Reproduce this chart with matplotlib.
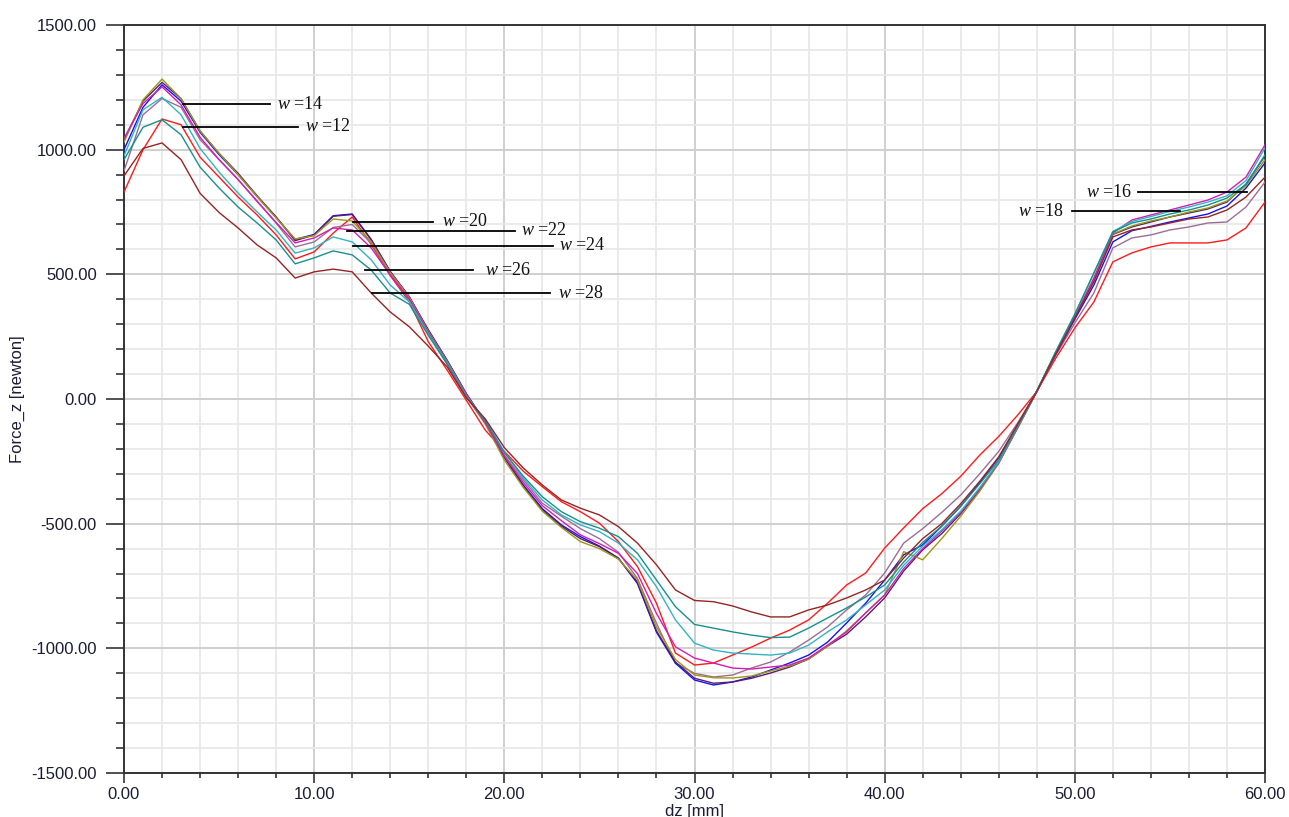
import matplotlib
matplotlib.use("Agg")
import matplotlib.pyplot as plt
from matplotlib.ticker import MultipleLocator, FormatStrFormatter

# Displacement samples (mm)
dz = list(range(0, 61))

# Force_z traces (newton) for each width w
f_w12 = [830, 1000, 1123, 1100, 970, 890, 810, 738, 658, 562,
         590, 665, 730, 620, 495, 390, 230, 115, -5, -125,
         -210, -290, -352, -412, -452, -498, -572, -672, -819, -1019,
         -1067, -1059, -1027, -995, -959, -927, -886, -819, -746, -698,
         -598, -517, -440, -380, -310, -225, -150, -64, 30, 164,
         285, 389, 550, 586, 610, 626, 626, 626, 638, 686, 790]
f_w14 = [915, 1140, 1205, 1170, 1040, 960, 880, 795, 705, 610,
         630, 688, 700, 625, 500, 398, 262, 138, 10, -100,
         -225, -325, -418, -470, -520, -560, -615, -720, -900, -1060,
         -1100, -1115, -1107, -1079, -1055, -1015, -967, -914, -846, -786,
         -698, -578, -520, -455, -385, -300, -210, -95, 30, 175,
         305, 425, 606, 646, 658, 678, 690, 706, 710, 770, 870]
f_w16 = [1000, 1170, 1260, 1195, 1070, 980, 900, 812, 728, 640,
         660, 735, 742, 640, 512, 410, 275, 152, 20, -95,
         -232, -345, -440, -505, -552, -590, -638, -740, -935, -1060,
         -1127, -1147, -1135, -1115, -1087, -1059, -1027, -975, -898, -819,
         -726, -625, -585, -510, -430, -335, -235, -110, 32, 180,
         320, 457, 630, 675, 692, 710, 726, 742, 774, 846, 947]
f_w18 = [1040, 1195, 1270, 1205, 1075, 985, 905, 815, 730, 635,
         658, 733, 740, 638, 510, 410, 278, 155, 22, -92,
         -235, -350, -445, -510, -560, -592, -640, -735, -930, -1055,
         -1120, -1140, -1135, -1120, -1099, -1075, -1043, -991, -943, -874,
         -798, -690, -605, -540, -460, -365, -255, -115, 30, 185,
         330, 477, 660, 690, 710, 730, 746, 762, 790, 862, 975]
f_w20 = [1030, 1200, 1283, 1205, 1075, 985, 900, 812, 726, 642,
         655, 722, 714, 630, 508, 408, 272, 150, 18, -100,
         -245, -355, -450, -515, -572, -600, -642, -726, -915, -1045,
         -1107, -1118, -1119, -1111, -1091, -1071, -1043, -991, -930, -858,
         -786, -612, -645, -560, -470, -370, -258, -115, 30, 185,
         330, 480, 662, 694, 714, 730, 750, 766, 794, 855, 960]
f_w22 = [1045, 1185, 1252, 1180, 1050, 960, 880, 792, 708, 626,
         646, 686, 678, 606, 497, 402, 268, 148, 18, -95,
         -230, -335, -428, -488, -545, -580, -619, -700, -860, -994,
         -1039, -1059, -1079, -1083, -1075, -1067, -1039, -987, -934, -858,
         -786, -680, -600, -530, -455, -360, -255, -112, 30, 185,
         330, 485, 666, 718, 738, 758, 778, 798, 830, 890, 1019]
f_w24 = [975, 1160, 1210, 1140, 1005, 910, 826, 750, 678, 585,
         606, 650, 630, 558, 457, 390, 262, 145, 12, -85,
         -212, -318, -405, -465, -505, -532, -578, -645, -753, -886,
         -979, -1007, -1019, -1023, -1027, -1019, -987, -934, -886, -826,
         -766, -667, -590, -525, -450, -355, -252, -110, 32, 190,
         340, 505, 672, 712, 732, 752, 770, 790, 815, 876, 1007]
f_w26 = [960, 1090, 1120, 1060, 930, 846, 770, 706, 638, 542,
         566, 594, 578, 517, 425, 380, 255, 140, 8, -88,
         -215, -310, -392, -452, -492, -518, -552, -619, -726, -833,
         -904, -919, -934, -947, -957, -955, -919, -878, -838, -794,
         -746, -654, -575, -510, -430, -340, -245, -108, 32, 190,
         340, 505, 670, 706, 722, 742, 758, 778, 806, 860, 979]
f_w28 = [895, 1005, 1027, 960, 825, 748, 686, 618, 566, 485,
         510, 521, 510, 425, 349, 290, 212, 128, 5, -80,
         -195, -277, -345, -405, -438, -465, -512, -578, -665, -766,
         -808, -813, -830, -854, -874, -874, -846, -826, -798, -766,
         -726, -638, -560, -500, -420, -330, -232, -100, 30, 182,
         325, 470, 650, 678, 690, 706, 722, 730, 758, 810, 890]

traces = [
    (f_w12, "#ff1a1a"),
    (f_w14, "#9c6e94"),
    (f_w16, "#1414ee"),
    (f_w18, "#5c1a70"),
    (f_w20, "#9a9a12"),
    (f_w22, "#d41cb4"),
    (f_w24, "#30b4c4"),
    (f_w26, "#17908f"),
    (f_w28, "#962424"),
]

# Callout labels: (text, curve point x, y, line end x, text x, text alignment)
callout_text = ["14", "12", "20", "22", "24", "26", "28", "16", "18"]
callout_y = [1183, 1091, 710, 674, 614, 517, 425, 830, 754]
callout_x0 = [3.1, 3.1, 12.04, 11.72, 12.04, 12.67, 13.04, 59.04, 55.52]
callout_x1 = [7.68, 9.15, 16.25, 20.56, 22.55, 18.35, 22.4, 53.3, 49.84]
callout_tx = [8.04, 9.5, 16.7, 20.9, 22.9, 19.0, 22.8, 53.0, 49.45]
callout_ha = ["left", "left", "left", "left", "left", "left", "left", "right", "right"]

plt.rcParams["mathtext.fontset"] = "custom"
plt.rcParams["mathtext.it"] = "Liberation Serif:italic"
plt.rcParams["mathtext.rm"] = "Liberation Serif"

fig = plt.figure(figsize=(12.89, 8.17), dpi=100)
ax = fig.add_axes([124 / 1289, 1 - 773 / 817, 1141 / 1289, 748 / 817])

for values, color in traces:
    ax.plot(dz, values, color=color, lw=1.0, zorder=3)

for t, y, x0, x1, tx, ha in zip(callout_text, callout_y, callout_x0,
                                 callout_x1, callout_tx, callout_ha):
    ax.plot([x0, x1], [y, y], color="black", lw=1.3, zorder=4)
    ax.text(tx, y, r"$w$ =" + t, fontsize=13, family="Liberation Serif",
            ha=ha, va="center", color="#111111", zorder=5)

ax.set_xlim(0, 60)
ax.set_ylim(-1500, 1500)
ax.xaxis.set_major_locator(MultipleLocator(10))
ax.xaxis.set_minor_locator(MultipleLocator(2))
ax.yaxis.set_major_locator(MultipleLocator(500))
ax.yaxis.set_minor_locator(MultipleLocator(100))
ax.xaxis.set_major_formatter(FormatStrFormatter("%.2f"))
ax.yaxis.set_major_formatter(FormatStrFormatter("%.2f"))

ax.grid(which="major", color="#cfcfcf", lw=1.4, zorder=0)
ax.grid(which="minor", color="#e8e8e8", lw=1.3, zorder=0)
ax.set_axisbelow(True)

label_color = "#1c1c34"
ax.tick_params(axis="y", which="major", direction="out", length=13, width=1.2,
               color="#333333", pad=6.5, labelsize=12, labelcolor=label_color)
ax.tick_params(axis="y", which="minor", direction="out", length=5.8, width=1.2,
               color="#333333")
ax.tick_params(axis="x", which="major", direction="out", length=7.2, width=1.2,
               color="#333333", pad=3, labelsize=12, labelcolor=label_color)
ax.tick_params(axis="x", which="minor", direction="out", length=3.6, width=1.2,
               color="#333333")
for side in ["left", "bottom", "right", "top"]:
    ax.spines[side].set_color("#333333")
    ax.spines[side].set_linewidth(1.4)

for lab in ax.get_xticklabels() + ax.get_yticklabels():
    lab.set_family("Liberation Sans")

ax.set_xlabel("dz [mm]", fontsize=12, family="Liberation Sans", color=label_color)
ax.xaxis.set_label_coords(0.5, -0.041)
ax.set_ylabel("Force_z [newton]", fontsize=12, family="Liberation Sans",
              color=label_color)
ax.yaxis.set_label_coords(-0.087, 0.5)

fig.savefig("out.png", dpi=100)
